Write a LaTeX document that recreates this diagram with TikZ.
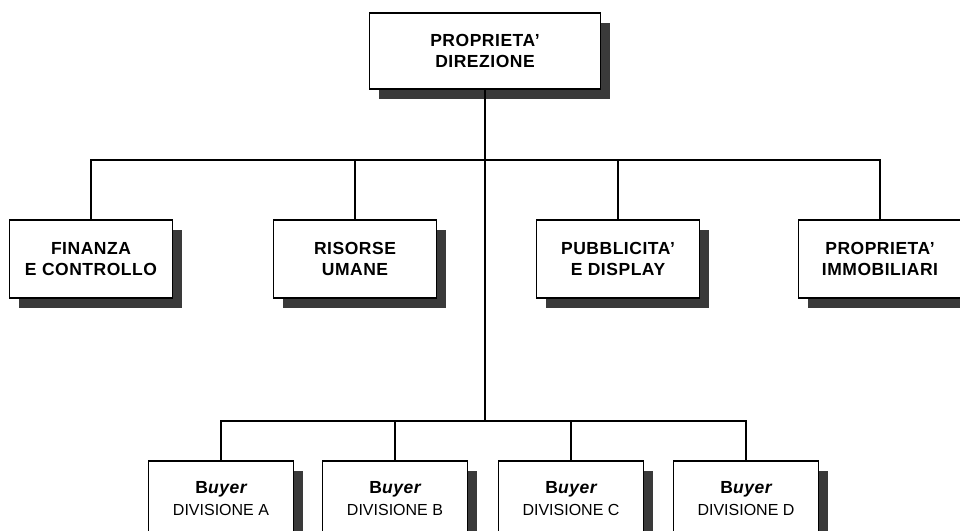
\documentclass[tikz,border=0pt]{standalone}
\usepackage{fontspec}
\setmainfont{Liberation Sans}
\newfontfamily\boxbold[LetterSpace=3]{Liberation Sans Bold}
\newfontfamily\boxbolditalic[LetterSpace=3]{Liberation Sans Bold Italic}
\newcommand{\buyerlabel}{{\fontsize{17.5}{22}\selectfont\boxbold B\boxbolditalic uyer}}
\usetikzlibrary{shadows}
\definecolor{shadowgray}{HTML}{3A3A3A}
\begin{document}
\begin{tikzpicture}[x=1pt,y=-1pt,
  unit/.style={draw=black, line width=1.8pt, fill=white, rectangle,
    inner sep=0pt, align=center,
    drop shadow={shadow xshift=9pt, shadow yshift=-10pt, fill=shadowgray, opacity=1}},
  headbox/.style={unit, minimum width=231pt, minimum height=76pt,
    font=\boxbold\fontsize{17.5}{21}\selectfont},
  staffbox/.style={unit, minimum width=163pt, minimum height=78pt,
    font=\boxbold\fontsize{17.5}{21}\selectfont},
  buyerbox/.style={unit, minimum width=145pt, minimum height=75pt,
    font=\fontsize{16}{22}\selectfont},
  link/.style={draw=black, line width=1.6pt}]
\useasboundingbox (0,0) rectangle (960,530);

% top management
\node[headbox] (dir) at (485,51) {PROPRIETA’\\DIREZIONE};

% staff functions
\node[staffbox] (fin) at (91,259) {FINANZA\\E CONTROLLO};
\node[staffbox] (hr)  at (355,259) {RISORSE\\UMANE};
\node[staffbox] (pub) at (618,259) {PUBBLICITA’\\E DISPLAY};
\node[staffbox] (imm) at (880,259) {PROPRIETA’\\IMMOBILIARI};

% buying divisions (boxes run past the lower edge)
\node[buyerbox] (da) at (221,498.5) {\buyerlabel\\DIVISIONE A};
\node[buyerbox] (db) at (395,498.5) {\buyerlabel\\DIVISIONE B};
\node[buyerbox] (dc) at (571,498.5) {\buyerlabel\\DIVISIONE C};
\node[buyerbox] (dd) at (746,498.5) {\buyerlabel\\DIVISIONE D};

% bus junctions on the main trunk
\coordinate (j1) at (dir.south |- 0,160);
\coordinate (j2) at (dir.south |- 0,421);

\draw[link] (dir.south) -- (j2);
\foreach \n in {fin,hr,pub,imm} \draw[link] (\n.north) |- (j1);
\foreach \n in {da,db,dc,dd} \draw[link] (\n.north) |- (j2);
\end{tikzpicture}
\end{document}
